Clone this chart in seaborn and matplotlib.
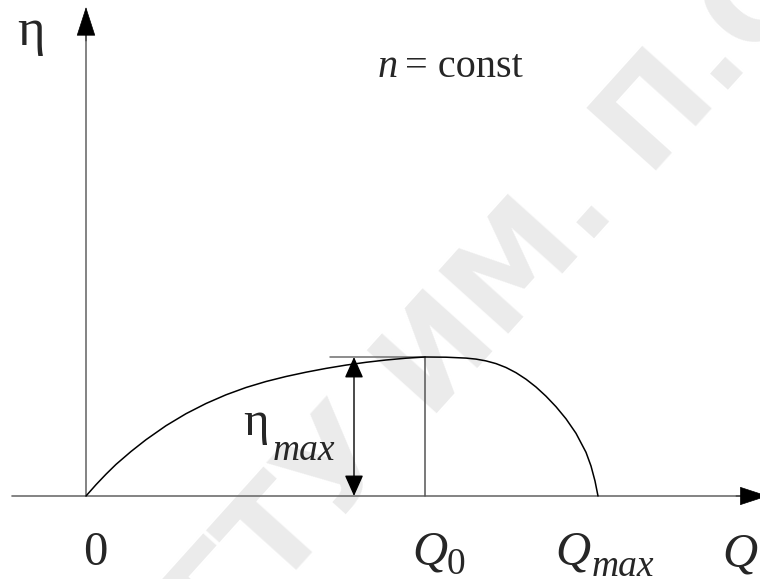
import matplotlib
matplotlib.use("Agg")
import matplotlib.pyplot as plt
import seaborn as sns
import pandas as pd

# ---- data (pump efficiency curve, arbitrary units) ----
Q_curve = [0.00, 0.10, 0.20, 0.30, 0.45, 0.60, 0.80, 1.00, 1.20, 1.40,
           1.60, 1.80, 2.00, 2.20, 2.40, 2.60, 2.80, 3.00, 3.20, 3.39,
           3.60, 3.80, 3.90, 4.00, 4.10, 4.20, 4.30, 4.40, 4.50, 4.60,
           4.70, 4.80, 4.90, 5.00, 5.05, 5.09, 5.12]
eta_curve = [0.000, 0.113, 0.218, 0.316, 0.445, 0.563, 0.703, 0.823, 0.925, 1.012,
             1.085, 1.145, 1.195, 1.238, 1.276, 1.309, 1.337, 1.360, 1.378, 1.390,
             1.388, 1.379, 1.369, 1.351, 1.324, 1.285, 1.233, 1.168, 1.090, 0.998,
             0.893, 0.772, 0.627, 0.437, 0.300, 0.150, 0.000]
Q0 = 3.39
Qmax = 5.12
eta_max = 1.39
eta_arrow_Q = 2.68

axis_labels = {"y": "η", "x": "Q"}
tick_zero = "0"
note = "n"

sns.set_theme(style="white")
plt.rcParams["font.family"] = ["Liberation Serif", "DejaVu Serif"]

fig = plt.figure(figsize=(7.6, 5.79), dpi=100)
ax = fig.add_axes([0, 0, 1, 1])
ax.set_xlim(-0.86, 6.74)
ax.set_ylim(-0.83, 4.96)
ax.set_axis_off()

# watermark
ax.text(4.0, 1.9, "ГГТУ ИМ. П.О.", rotation=48, fontsize=92, fontweight="bold",
        family="DejaVu Sans", color="#ebebeb", ha="center", va="center", zorder=0)

df = pd.DataFrame({"Q": Q_curve, "eta": eta_curve})
sns.lineplot(data=df, x="Q", y="eta", sort=False, estimator=None,
             color="black", lw=1.1, ax=ax, zorder=3)

axis_col = "#6e6e6e"
# x axis
ax.plot([-0.74, 6.6], [0, 0], color=axis_col, lw=1.2, zorder=2)
ax.annotate("", xy=(6.82, 0), xytext=(6.5, 0), annotation_clip=False,
            arrowprops=dict(arrowstyle="-|>,head_length=19,head_width=6.2",
                            mutation_scale=1, color="black", lw=0.5,
                            shrinkA=0, shrinkB=0), zorder=4)
# y axis
ax.plot([0, 0], [0, 4.7], color=axis_col, lw=1.2, zorder=2)
ax.annotate("", xy=(0, 4.89), xytext=(0, 4.55), annotation_clip=False,
            arrowprops=dict(arrowstyle="-|>,head_length=19.5,head_width=6.3",
                            mutation_scale=1, color="black", lw=0.5,
                            shrinkA=0, shrinkB=0), zorder=4)

# eta_max reference lines
ax.plot([2.44, Q0], [eta_max, eta_max], color=axis_col, lw=1.1, zorder=2)
ax.plot([Q0, Q0], [0, eta_max], color="#555555", lw=1.1, zorder=2)

# double arrow for eta_max
ax.annotate("", xy=(eta_arrow_Q, eta_max), xytext=(eta_arrow_Q, 0),
            arrowprops=dict(arrowstyle="<|-|>,head_length=13,head_width=5.8",
                            mutation_scale=1, color="black", lw=1.0,
                            shrinkA=0, shrinkB=0), zorder=4)

big = 35
small = 27
# labels
ax.text(-0.69, 4.51, axis_labels["y"], fontsize=38, ha="left", va="baseline")
ax.text(2.92, 4.19, note, fontsize=29, style="italic", ha="left", va="baseline")
ax.text(3.19, 4.19, "= const", fontsize=29, ha="left", va="baseline")

ax.text(1.57, 0.61, "η", fontsize=big, ha="left", va="baseline")
ax.text(1.87, 0.36, "max", fontsize=small, style="italic", ha="left", va="baseline")

ax.text(0.09, -0.69, tick_zero, fontsize=big, ha="center", va="baseline")
ax.text(3.26, -0.69, "Q", fontsize=big, style="italic", ha="left", va="baseline")
ax.text(3.61, -0.78, "0", fontsize=small, ha="left", va="baseline")
ax.text(4.69, -0.69, "Q", fontsize=big, style="italic", ha="left", va="baseline")
ax.text(5.06, -0.80, "max", fontsize=small, style="italic", ha="left", va="baseline")
ax.text(6.36, -0.71, axis_labels["x"], fontsize=big, style="italic", ha="left", va="baseline")

fig.savefig("out.png", dpi=100)
